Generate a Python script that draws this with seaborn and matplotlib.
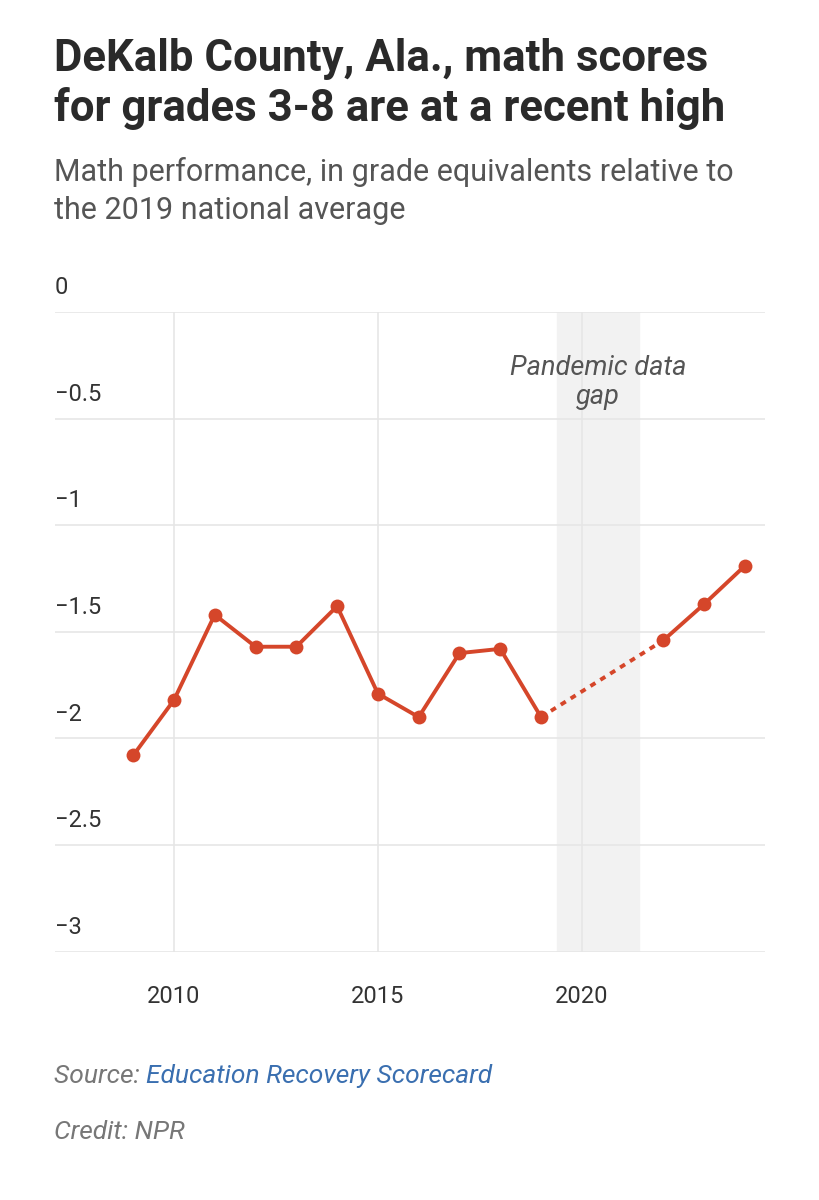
import numpy as np
import pandas as pd
import matplotlib
matplotlib.use("Agg")
import matplotlib.pyplot as plt
import seaborn as sns

years_before = [2009, 2010, 2011, 2012, 2013, 2014, 2015, 2016, 2017, 2018, 2019]
scores_before = [-2.08, -1.82, -1.42, -1.57, -1.57, -1.38, -1.79, -1.90, -1.60, -1.58, -1.90]
years_after = [2022, 2023, 2024]
scores_after = [-1.54, -1.37, -1.19]
gap_start, gap_end = 2019.4, 2021.4
y_ticks = [0, -0.5, -1, -1.5, -2, -2.5, -3]
y_tick_labels = ["0", "\u22120.5", "\u22121", "\u22121.5", "\u22122", "\u22122.5", "\u22123"]
x_ticks = [2010, 2015, 2020]

sns.set_style("white")
plt.rcParams['font.family'] = ['Roboto', 'DejaVu Sans']

red = "#d5462a"
grid_c = "#e6e6e6"

fig = plt.figure(figsize=(8.19, 12), dpi=100)
ax = fig.add_axes([0.067, 0.207, 0.867, 0.533])

ax.axvspan(gap_start, gap_end, color="#f2f2f2", zorder=0)
for y in y_ticks:
    ax.axhline(y, color=grid_c, lw=1.2, zorder=1)
for x in x_ticks:
    ax.axvline(x, color=grid_c, lw=1.2, zorder=1)

df_b = pd.DataFrame({"year": years_before, "score": scores_before})
df_a = pd.DataFrame({"year": years_after, "score": scores_after})
sns.lineplot(data=df_b, x="year", y="score", color=red, lw=2.8, marker="o",
             markersize=10, markeredgewidth=0, ax=ax, zorder=3)
sns.lineplot(data=df_a, x="year", y="score", color=red, lw=2.8, marker="o",
             markersize=10, markeredgewidth=0, ax=ax, zorder=3)
ax.plot([years_before[-1], years_after[0]], [scores_before[-1], scores_after[0]],
        color=red, lw=2.8, ls=(0, (1.5, 1.5)), zorder=2)

ax.set_xlim(2007.08, 2024.49)
ax.set_ylim(-3, 0)
ax.set_xticks(x_ticks)
ax.set_xticklabels([str(x) for x in x_ticks], fontsize=17, color="#333333")
ax.tick_params(axis="x", length=0, pad=24)
ax.set_yticks([])
for y, lab in zip(y_ticks, y_tick_labels):
    ax.text(2007.08, y + 0.06, lab, fontsize=17, color="#333333", ha="left", va="bottom")
ax.set_xlabel("")
ax.set_ylabel("")
for s in ax.spines.values():
    s.set_visible(False)

ax.text((gap_start + gap_end) / 2, -0.33, "Pandemic data\ngap", ha="center", va="center",
        fontsize=19.5, style="italic", color="#555555", linespacing=1.15)

fig.text(0.066, 0.968, "DeKalb County, Ala., math scores\nfor grades 3-8 are at a recent high",
         fontsize=31.5, fontweight="bold", color="#2a2a2a", va="top", linespacing=1.2)
fig.text(0.066, 0.869, "Math performance, in grade equivalents relative to\nthe 2019 national average",
         fontsize=22, color="#555555", va="top", linespacing=1.4)
src = fig.text(0.066, 0.103, "Source: ", fontsize=19, style="italic", color="#777777", va="center")
fig.canvas.draw()
bb = src.get_window_extent().transformed(fig.transFigure.inverted())
fig.text(bb.x1, 0.103, "Education Recovery Scorecard", fontsize=19, style="italic",
         color="#3a6fb0", va="center")
fig.text(0.066, 0.057, "Credit: NPR", fontsize=19, style="italic", color="#777777", va="center")

fig.savefig("out.png", dpi=100)
